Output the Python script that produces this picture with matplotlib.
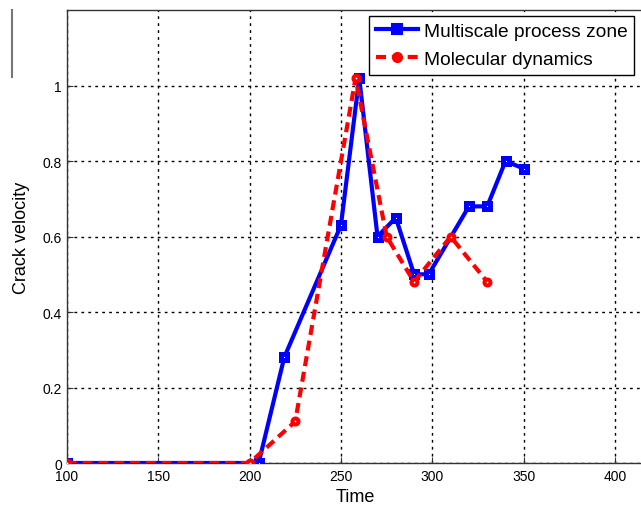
import matplotlib
matplotlib.use('Agg')
import matplotlib.pyplot as plt
from matplotlib.lines import Line2D

plt.rcParams['font.family'] = ['Liberation Sans', 'DejaVu Sans']

# Данные
ms_time = [100, 205, 219, 250, 260, 270, 280, 290, 298, 320, 330, 340, 350]
ms_vel = [0, 0, 0.28, 0.63, 1.02, 0.60, 0.65, 0.50, 0.50, 0.68, 0.68, 0.80, 0.78]
md_time = [100, 200, 225, 258, 275, 290, 310, 330]
md_vel = [0, 0, 0.11, 1.02, 0.60, 0.48, 0.60, 0.48]

x_ticks = [100, 150, 200, 250, 300, 350, 400]
y_ticks = [0, 0.2, 0.4, 0.6, 0.8, 1.0]
y_tick_labels = ['0', '0.2', '0.4', '0.6', '0.8', '1']

fig = plt.figure(figsize=(6.41, 5.06), dpi=100)
ax = fig.add_axes([0.104, 0.083, 0.9, 0.895])

ax.plot(ms_time, ms_vel, color='#0000ff', linewidth=3, marker='s', markersize=5.0,
        markerfacecolor='white', markeredgewidth=3.6, label='Multiscale process zone', zorder=3)
ax.plot(md_time, md_vel, color='#ff0000', linewidth=3, linestyle='--', dashes=(2.4, 1.4),
        marker='o', markersize=4.3, markerfacecolor='white', markeredgewidth=2.9,
        label='Molecular dynamics', zorder=4)

ax.set_xlim(100, 415.5)
ax.set_ylim(0, 1.2)
ax.set_xticks(x_ticks)
ax.set_yticks(y_ticks)
ax.set_yticklabels(y_tick_labels)
ax.tick_params(direction='in', length=4, labelsize=10, color='#333333')
ax.tick_params(axis='y', pad=3.5)
ax.tick_params(axis='x', pad=4.5)
ax.grid(True, linestyle=(0, (2, 3)), color='black', linewidth=1)
ax.set_axisbelow(True)

ax.spines['right'].set_visible(False)
for s in ['left', 'top', 'bottom']:
    ax.spines[s].set_color('#333333')
    ax.spines[s].set_linewidth(1)

ax.set_xlabel('Time', fontsize=13)
ax.xaxis.set_label_coords(0.5, -0.055)
ax.set_ylabel('Crack velocity', fontsize=13)
ax.yaxis.set_label_coords(-0.063, 0.5)

leg = ax.legend(loc='upper left', bbox_to_anchor=(0.5246, 0.987), borderaxespad=0,
                fontsize=13.8, fancybox=False, edgecolor='black', framealpha=1,
                handlelength=2.2, handletextpad=0.3, borderpad=0.35, labelspacing=0.55)
leg.get_frame().set_linewidth(1)
# Маркеры в легенде залитые и крупнее
for h, ms in zip(leg.legend_handles, [7.5, 6.5]):
    h.set_markerfacecolor(h.get_color())
    h.set_markersize(ms)
    h.set_markeredgewidth(1.5)

# Линия слева (край исходной рамки)
fig.add_artist(Line2D([12 / 641, 12 / 641], [1 - 11 / 506, 1 - 78 / 506],
                      color='#777777', linewidth=1.5))

plt.savefig('out.png', dpi=100)
plt.close()
